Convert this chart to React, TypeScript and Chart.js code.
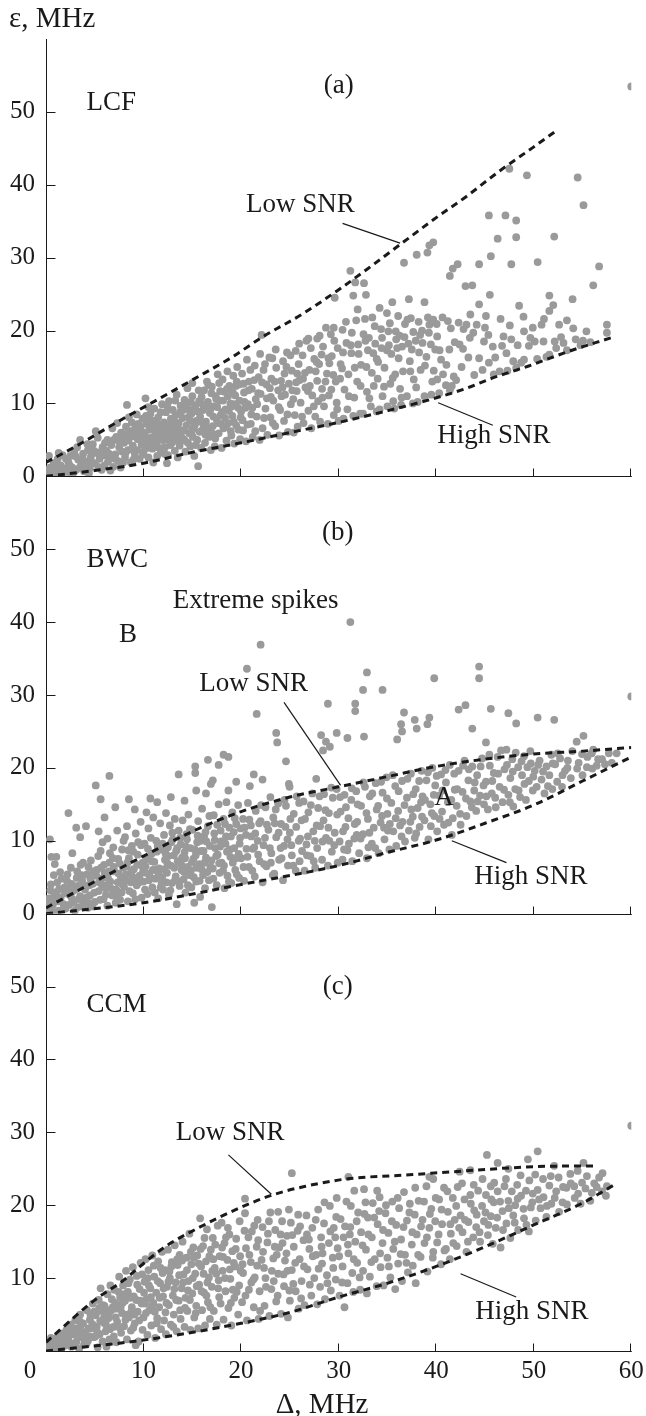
import React, { useEffect, useRef } from 'react';
import { Chart, registerables } from 'chart.js';

Chart.register(...registerables);

// ---------- axes / ticks ----------
const xTicks = [0, 10, 20, 30, 40, 50, 60];
const yTicksTop = [0, 10, 20, 30, 40, 50];
const yTicksBottom = [10, 20, 30, 40, 50];
const xTitle = 'Δ, MHz';
const yTitle = 'ε, MHz';

// ---------- panel (a) LCF : scatter points, flat [x, y, x, y, ...] ----------
const lcfPoints = [
  0.2,0.3, 0.4,1.2, 0.6,0.5, 0.8,1.8, 1.0,0.9, 1.2,2.4, 1.4,0.4, 1.5,1.5, 1.7,2.9, 1.9,1.1, 0.3,2.8, 0.9,0.2, 1.3,3.2,
  2.1,0.6, 2.3,1.9, 2.5,2.8, 2.7,1.2, 2.9,3.4, 3.1,0.9, 3.3,2.3, 3.5,5.0, 3.6,1.6, 3.8,3.1, 3.9,0.7, 2.6,0.2, 3.2,4.0,
  4.1,2.0, 4.3,3.6, 4.5,1.1, 4.6,2.7, 4.8,4.4, 5.0,1.8, 5.2,3.2, 5.3,5.3, 5.5,2.4, 5.7,0.9, 5.8,4.0, 5.9,2.9, 4.4,0.4, 5.1,6.2,
  6.0,1.5, 6.2,3.5, 6.3,5.0, 6.5,2.4, 6.7,4.3, 6.8,6.6, 6.9,1.3, 7.1,3.0, 7.2,5.4, 7.4,2.1, 7.5,4.0, 7.7,6.0, 7.8,3.4, 7.9,1.9, 6.6,0.8, 7.3,7.3,
  8.0,4.6, 8.1,2.6, 8.2,6.8, 8.3,9.8, 8.4,3.6, 8.6,5.4, 8.7,1.9, 8.8,7.4, 8.9,4.2, 9.1,3.1, 9.2,6.0, 9.3,8.5, 9.4,5.1, 9.6,2.4, 9.7,6.8, 9.8,4.4, 9.9,7.9, 8.5,8.1,
  10.0,3.4, 10.1,5.6, 10.2,10.7, 10.3,7.2, 10.4,4.7, 10.5,2.6, 10.6,6.4, 10.7,8.6, 10.8,5.3, 10.9,3.8, 11.0,7.6, 11.1,9.3, 11.2,6.1, 11.3,4.5, 11.4,2.8, 11.5,8.1, 11.6,5.6, 11.7,6.9, 11.8,3.4, 11.9,9.9, 11.0,1.9, 10.5,9.5,
  12.0,5.0, 12.1,7.4, 12.2,4.0, 12.3,8.8, 12.4,6.3, 12.5,2.9, 12.6,10.3, 12.7,5.5, 12.8,7.9, 12.9,4.6, 13.0,9.1, 13.1,6.7, 13.2,3.5, 13.3,8.4, 13.4,11.2, 13.5,5.9, 13.6,7.3, 13.7,4.2, 13.8,9.7, 13.9,6.3, 12.4,1.8, 13.5,2.6,
  14.0,8.0, 14.1,5.1, 14.2,10.5, 14.3,3.4, 14.4,7.0, 14.5,12.1, 14.6,9.2, 14.7,5.9, 14.8,4.1, 14.9,8.6, 15.0,11.0, 15.1,6.6, 15.2,2.8, 15.3,9.7, 15.4,7.6, 15.5,5.0, 15.6,1.4, 15.7,10.3, 15.8,8.2, 15.9,3.9, 15.0,12.8,
  16.0,6.3, 16.1,9.1, 16.2,11.8, 16.3,4.6, 16.4,7.5, 16.5,13.0, 16.6,10.2, 16.7,5.4, 16.8,8.7, 16.9,3.6, 17.0,12.3, 17.1,6.9, 17.2,9.6, 17.3,4.1, 17.4,11.0, 17.5,7.8, 17.6,14.0, 17.7,5.9, 17.8,10.4, 17.9,8.4,
  18.0,3.9, 18.1,13.3, 18.2,6.6, 18.3,11.6, 18.4,9.2, 18.5,4.9, 18.6,14.4, 18.7,7.3, 18.8,12.4, 18.9,10.0, 19.0,5.6, 19.1,8.3, 19.2,13.8, 19.3,4.5, 19.4,11.1, 19.5,7.0, 19.6,15.0, 19.7,9.4, 19.8,12.6, 19.9,5.1,
  20.0,8.9, 20.1,14.1, 20.2,6.3, 20.3,11.5, 20.5,4.8, 20.6,16.0, 20.7,9.9, 20.8,13.0, 21.0,7.2, 21.1,12.0, 21.2,5.4, 21.4,15.2, 21.5,10.6, 21.6,8.2, 21.8,13.6, 21.9,5.0,
  22.1,19.4, 22.0,11.3, 22.2,6.6, 22.3,14.6, 22.5,9.3, 22.6,12.6, 22.7,5.7, 22.9,16.3, 23.0,8.1, 23.1,13.4, 23.2,16.2, 23.3,10.4, 23.5,6.9, 23.6,14.9, 23.8,11.8, 23.9,5.6,
  24.0,9.1, 24.1,13.1, 24.3,15.8, 24.4,7.6, 24.5,11.2, 24.7,17.0, 24.8,6.1, 24.9,12.7, 25.1,9.9, 25.2,14.5, 25.4,6.0, 25.5,8.4, 25.6,17.2, 25.7,11.7, 25.9,15.4, 25.8,6.8,
  26.0,13.2, 26.1,10.1, 26.3,16.6, 26.4,7.3, 26.6,12.2, 26.7,18.6, 26.9,18.9, 26.9,9.0, 27.0,14.6, 27.2,6.6, 27.3,11.1, 27.5,16.1, 27.6,8.2, 27.8,18.9, 27.8,13.1, 27.9,10.3,
  28.0,15.4, 28.1,7.5, 28.3,12.0, 28.4,17.8, 28.5,9.6, 28.7,20.4, 28.8,14.1, 28.9,7.2, 29.0,11.1, 29.2,19.5, 29.3,16.5, 29.5,8.4, 29.6,24.5, 29.5,20.4, 29.7,13.0, 29.8,10.1, 29.9,17.6,
  30.0,7.6, 30.2,15.4, 30.4,20.1, 30.5,7.9, 30.6,11.9, 30.8,18.3, 30.9,9.2, 31.0,14.0, 31.2,28.2, 31.3,16.9, 31.5,24.8, 31.6,10.8, 31.7,26.6, 31.8,21.4, 31.9,13.0, 31.5,8.3,
  32.0,18.1, 32.2,8.6, 32.3,15.3, 32.5,8.6, 32.6,26.5, 32.7,21.6, 32.8,24.9, 32.9,11.6, 33.0,17.3, 33.1,19.0, 33.3,9.6, 33.4,14.2, 33.6,12.4, 33.7,20.6, 33.9,16.1, 33.9,8.9,
  34.0,13.4, 34.2,23.1, 34.2,9.2, 34.4,17.6, 34.5,11.0, 34.7,14.9, 34.95,22.4, 35.0,9.6, 35.1,19.9, 35.3,12.7, 35.5,23.9, 35.4,16.8, 35.6,10.3, 35.8,14.0, 35.9,18.8, 35.7,9.3,
  36.0,17.6, 36.1,22.0, 36.3,12.0, 36.4,9.8, 36.5,17.8, 36.6,14.4, 36.7,29.3, 36.8,20.9, 37.0,11.0, 37.2,24.3, 37.3,15.8, 37.4,21.7, 37.6,10.0, 37.7,13.3, 37.9,18.6, 37.5,17.4,
  38.0,30.4, 38.1,10.2, 38.2,21.2, 38.4,14.6, 38.6,18.3, 38.8,23.9, 38.8,11.0, 39.0,16.4, 39.1,30.7, 39.3,31.7, 39.3,20.8, 39.5,11.2, 39.6,13.0, 39.7,32.1, 39.7,21.5, 39.9,17.4,
  40.1,19.2, 40.1,13.3, 40.3,11.4, 40.5,16.0, 40.7,14.0, 41.0,12.5, 41.2,21.3, 41.4,27.5, 41.4,11.8, 41.6,12.4, 41.7,28.5, 41.8,13.7, 41.9,18.4, 41.5,20.3,
  42.2,29.1, 42.3,21.1, 42.4,18.1, 42.6,15.0, 42.8,20.2, 43.0,26.1, 43.1,20.8, 43.3,16.3, 43.5,22.2, 43.7,26.2, 43.8,19.7, 43.9,13.9,
  44.4,29.1, 44.4,23.6, 44.4,16.2, 44.9,18.5, 45.1,22.0, 45.4,35.8, 45.4,15.6, 45.5,24.9, 45.6,30.2, 45.8,17.8, 45.0,20.4, 45.9,14.0,
  46.3,32.6, 46.5,14.4, 46.9,19.2, 47.1,35.8, 47.5,42.2, 47.7,29.1, 47.7,18.8, 47.9,15.8, 46.6,21.6, 47.2,16.9, 47.3,14.5,
  48.2,35.1, 48.2,32.8, 48.5,23.4, 48.2,14.9, 49.0,19.9, 49.0,16.0, 49.3,41.3, 49.9,20.4, 48.7,15.6, 49.5,17.9,
  50.4,29.4, 50.1,18.5, 51.0,18.5, 51.6,22.7, 51.6,24.8, 51.6,16.7, 50.8,20.8, 51.3,16.4,
  52.0,23.5, 52.1,32.9, 52.8,19.1, 52.6,20.8, 53.4,21.4, 53.98,24.3, 53.4,17.3, 52.3,17.6,
  54.5,41.0, 55.1,37.2, 54.3,18.8, 55.4,19.9, 56.1,26.2, 56.7,28.8, 57.5,20.8, 57.5,19.7, 55.8,18.4, 54.8,18.0,
  60.0,53.5,
];
const lcfMorePoints = [
  0.35,0.9, 0.75,0.35, 1.15,1.4, 1.65,0.8, 2.05,2.4, 2.45,1.45, 2.85,0.55, 3.05,2.75, 3.45,1.2, 3.75,2.5, 4.05,1.4, 4.25,4.4, 4.65,1.9, 4.95,3.5, 5.35,1.3, 5.65,3.4,
  6.05,4.6, 6.35,2.0, 6.45,3.1, 6.95,5.0, 7.05,2.4, 7.45,4.9, 7.65,1.2, 7.95,5.4, 8.15,3.2, 8.45,4.9, 8.65,6.2, 8.95,2.3, 9.05,5.5, 9.35,3.6, 9.45,7.2, 9.75,4.9, 9.95,3.0,
  10.15,6.0, 10.35,3.9, 10.55,7.8, 10.85,4.2, 10.95,6.9, 11.25,5.2, 11.45,7.2, 11.65,3.9, 11.85,6.3, 11.95,5.0, 12.15,3.1, 12.35,5.8, 12.55,7.0, 12.75,4.3, 12.95,6.0,
  13.15,7.6, 13.35,4.9, 13.55,6.5, 13.75,8.8, 13.95,5.2, 14.15,6.3, 14.35,9.6, 14.55,4.6, 14.75,7.6, 14.95,6.2, 15.15,9.1, 15.35,4.3, 15.55,8.9, 15.75,6.1, 15.95,10.9,
  16.15,7.1, 16.35,5.7, 16.55,9.7, 16.75,6.4, 16.95,11.4, 17.15,8.2, 17.35,5.2, 17.55,9.5, 17.75,12.8, 17.95,7.2, 18.15,10.4, 18.35,8.0, 18.55,12.0, 18.75,9.0, 18.95,6.2,
  19.15,11.5, 19.35,9.9, 19.55,13.0, 19.75,6.4, 19.95,8.1, 20.25,12.7, 20.45,9.4, 20.65,7.1, 20.95,14.6, 21.15,9.4, 21.45,6.2, 21.75,11.4, 21.95,16.8, 22.35,8.0, 22.65,10.7,
  22.95,12.1, 23.25,7.3, 23.55,17.4, 23.85,9.5, 24.15,11.0, 24.45,14.1, 24.75,8.5, 25.05,16.6, 25.35,10.6, 25.65,12.9, 25.95,18.2, 26.25,8.2, 26.55,14.2, 26.85,11.7,
  27.15,17.6, 27.45,9.6, 27.75,15.7, 28.05,19.3, 28.35,10.8, 28.65,13.0, 28.95,16.2, 29.25,11.9, 29.55,18.6, 29.85,9.2, 30.15,13.4, 30.45,17.0, 30.75,21.2, 31.05,11.0,
  31.35,19.7, 31.65,14.9, 31.95,22.9, 32.25,12.4, 32.55,19.5, 32.85,15.0, 33.15,10.7, 33.45,21.8, 33.75,18.2, 34.05,15.7, 34.35,20.2, 34.65,12.3, 34.95,17.3, 35.25,21.0,
  35.55,13.5, 35.85,19.9, 36.15,16.2, 36.45,10.8, 36.75,19.1, 37.05,21.5, 37.35,14.4, 37.65,19.8, 37.95,12.2, 38.25,17.0, 38.55,20.0, 38.85,15.2, 39.15,21.8, 39.45,18.1,
  39.75,14.5, 40.05,20.9, 40.35,17.3, 40.65,21.8, 41.05,15.3, 41.35,17.4, 42.05,13.2, 42.75,17.5, 43.45,19.0, 44.15,20.8, 44.75,14.6, 45.35,19.4, 46.05,16.3, 46.75,17.9,
  47.55,20.7, 48.35,18.0, 48.95,21.9, 49.65,19.0, 50.35,16.1, 51.05,21.6, 52.15,18.5, 53.05,18.3, 54.05,20.3, 55.05,18.6,
];
const lcfDensePoints = [
  8.25,5.8, 8.85,3.9, 9.15,6.6, 9.65,5.9, 10.25,8.3, 10.65,5.0, 11.15,4.0, 11.55,6.6, 11.75,8.8, 12.05,6.8, 12.45,9.5, 12.65,4.9, 13.05,5.3, 13.25,10.4, 13.45,7.0,
  13.85,6.0, 14.05,9.1, 14.25,4.9, 14.65,8.2, 14.85,10.2, 15.05,5.4, 15.25,7.0, 15.65,11.8, 15.85,7.5, 16.05,9.9, 16.45,6.7, 16.65,12.5, 16.85,9.2, 17.05,5.9, 17.45,10.6,
  17.65,7.3, 17.85,11.7, 18.05,8.8, 18.45,6.8, 18.65,11.0, 19.05,9.6, 19.25,7.5, 19.45,12.4, 19.85,10.4, 20.15,7.7, 20.35,10.2, 20.75,11.8, 21.05,8.5, 21.35,13.2, 21.65,9.9,
  22.15,12.9, 22.45,15.4, 23.05,10.9, 23.45,13.0, 24.25,12.2, 24.65,15.0, 25.25,11.8, 25.75,14.1, 26.35,13.4, 27.05,12.4, 27.65,14.4, 28.25,16.7, 29.05,15.5, 29.45,13.9,
  30.35,14.8, 31.25,18.0, 32.05,16.8, 32.75,18.6, 33.55,16.9, 34.45,19.0, 35.15,18.0, 36.25,19.3, 37.15,18.2, 38.35,19.4, 39.25,19.7,
];

// ---------- panel (b) BWC ----------
const bwcPoints = [
  0.2,0.5, 0.3,2.1, 0.5,4.0, 0.55,7.8, 0.4,10.2, 0.7,1.2, 0.9,6.8, 1.06,7.8, 1.1,3.0, 1.3,0.4, 1.5,2.2, 1.6,4.8, 1.8,1.3, 1.9,3.6, 0.8,5.3,
  2.0,0.7, 2.2,5.4, 2.3,13.8, 2.4,2.6, 2.6,4.1, 2.8,1.5, 3.0,3.3, 3.1,11.8, 3.2,5.8, 3.3,0.9, 3.5,10.5, 3.5,2.4, 3.7,4.6, 3.9,1.8, 3.8,7.0, 2.7,8.3,
  4.0,3.3, 4.2,5.4, 4.3,0.8, 4.5,2.5, 4.6,7.3, 4.8,4.1, 5.0,1.6, 5.1,17.6, 5.2,6.0, 5.4,11.3, 5.4,3.1, 5.6,15.7, 5.6,8.6, 5.7,4.8, 5.9,2.0, 5.8,9.8,
  6.0,5.6, 6.1,3.5, 6.3,10.3, 6.3,1.1, 6.5,18.9, 6.5,7.0, 6.6,4.4, 6.8,2.5, 6.9,9.1, 7.0,5.8, 7.2,3.3, 7.3,11.4, 7.4,7.5, 7.6,1.9, 7.7,4.9, 7.8,8.8, 7.9,6.3,
  8.0,3.7, 8.1,10.5, 8.2,5.4, 8.3,12.0, 8.4,1.7, 8.5,15.7, 8.5,7.6, 8.7,4.3, 8.8,9.3, 8.9,2.8, 9.0,6.1, 9.2,11.0, 9.3,3.9, 9.4,8.1, 9.6,5.2, 9.7,12.6, 9.8,2.2, 9.9,7.0,
  10.0,4.4, 10.1,9.6, 10.2,6.5, 10.4,2.7, 10.5,11.7, 10.6,5.3, 10.7,15.8, 10.8,8.2, 10.9,3.6, 11.0,13.2, 11.1,7.1, 11.2,4.8, 11.3,10.0, 11.5,2.1, 11.6,6.2, 11.7,12.4, 11.8,8.8, 11.9,5.0,
  12.0,3.3, 12.1,10.8, 12.2,7.4, 12.3,13.8, 12.4,5.6, 12.5,9.1, 12.6,2.6, 12.7,12.1, 12.8,6.6, 12.9,4.2, 13.0,10.2, 13.1,8.0, 13.2,13.0, 13.3,5.1, 13.4,1.3, 13.5,7.2, 13.6,19.1, 13.6,11.4, 13.7,3.8, 13.8,9.5, 13.9,6.0,
  14.0,12.8, 14.1,4.7, 14.2,8.4, 14.3,2.9, 14.4,10.9, 14.5,6.4, 14.6,13.6, 14.7,5.3, 14.8,9.0, 14.9,3.6, 15.0,11.5, 15.1,7.5, 15.2,1.5, 15.3,20.2, 15.3,19.3, 15.4,16.9, 15.4,4.4, 15.5,9.8, 15.6,12.7, 15.7,6.8, 15.8,2.3, 15.9,8.6,
  16.0,14.4, 16.1,5.3, 16.2,10.6, 16.3,3.5, 16.4,16.5, 16.4,7.7, 16.6,21.1, 16.6,12.0, 16.7,4.6, 16.8,9.3, 17.0,0.9, 17.1,18.3, 17.1,6.2, 17.2,13.5, 17.3,10.1, 17.5,3.9, 17.6,8.1, 17.7,20.4, 17.7,15.0, 17.8,5.6, 17.9,11.4,
  18.0,7.0, 18.2,21.8, 18.2,13.0, 18.3,3.5, 18.4,9.6, 18.5,15.3, 18.6,5.2, 18.7,21.5, 18.7,16.9, 18.8,11.8, 18.9,7.8, 19.0,4.2, 19.1,13.9, 19.3,9.0, 19.4,6.0, 19.5,12.3, 19.7,14.9, 19.8,4.9, 19.9,10.4,
  20.0,7.6, 20.2,13.0, 20.3,4.5, 20.5,10.8, 20.6,33.6, 20.7,15.2, 20.8,6.4, 21.0,12.1, 21.2,8.9, 21.3,19.1, 21.4,5.1, 21.5,14.1, 21.6,27.4, 21.7,10.0, 21.9,7.2, 22.0,36.9, 22.0,12.7,
  22.2,18.4, 22.2,4.3, 22.3,9.4, 22.5,14.6, 22.6,6.5, 22.8,11.5, 23.0,16.0, 23.1,8.3, 23.3,13.2, 23.4,5.5, 23.6,24.8, 23.6,10.5, 23.7,23.5, 23.8,15.1, 23.9,7.4,
  24.1,12.3, 24.3,4.6, 24.4,9.3, 24.6,20.9, 24.6,14.8, 24.8,6.6, 24.9,17.8, 24.97,17.4, 25.0,11.1, 25.2,8.0, 25.4,13.7, 25.6,5.9, 25.7,16.1, 25.9,10.0,
  26.0,7.2, 26.2,12.8, 26.4,15.4, 26.5,5.9, 26.7,9.5, 26.9,13.9, 27.1,7.9, 27.3,16.5, 27.4,11.3, 27.6,6.3, 27.7,18.5, 27.8,9.0, 27.9,14.5,
  28.2,24.5, 28.1,12.0, 28.3,7.4, 28.4,22.4, 28.5,16.4, 28.7,23.6, 28.7,10.4, 28.9,28.8, 28.9,6.6, 29.0,13.8, 29.1,22.9, 29.3,8.5, 29.4,15.9, 29.6,11.1, 29.8,24.8, 29.8,17.1, 29.9,7.0,
  30.1,9.9, 30.2,14.0, 30.4,7.4, 30.6,16.3, 30.7,11.9, 30.9,24.1, 30.9,8.7, 31.0,13.1, 31.2,40.0, 31.3,15.6, 31.4,7.2, 31.6,10.3, 31.7,28.8, 31.7,27.8, 31.8,16.8, 31.9,12.6,
  32.1,8.3, 32.3,14.8, 32.5,30.7, 32.5,10.9, 32.6,24.3, 32.7,17.4, 32.9,33.1, 32.9,7.6, 33.0,13.0, 33.2,16.1, 33.4,9.6, 33.6,11.8, 33.8,17.9, 33.9,14.3,
  34.1,8.3, 34.3,12.5, 34.5,30.7, 34.5,16.6, 34.7,10.2, 34.9,18.7, 35.0,13.7, 35.2,8.8, 35.4,15.2, 35.6,11.3, 35.8,17.5, 35.9,9.3,
  36.0,23.9, 36.1,14.1, 36.4,26.0, 36.3,12.1, 36.5,25.0, 36.5,18.2, 36.7,27.6, 36.8,9.9, 37.0,15.9, 37.2,11.4, 37.4,19.2, 37.6,13.3, 37.8,26.6, 37.8,10.4, 37.9,17.1,
  38.0,25.4, 38.1,14.5, 38.3,11.9, 38.5,19.6, 38.6,16.1, 38.8,12.8, 39.1,26.0, 39.0,18.3, 39.3,26.9, 39.2,10.2, 39.4,15.0, 39.6,20.0, 39.8,32.3, 39.8,13.4, 39.9,17.6,
  40.1,11.3, 40.3,16.2, 40.5,19.1, 40.6,14.0, 40.8,12.2, 41.0,18.0, 41.2,15.3, 41.4,20.4, 41.6,10.8, 41.7,13.1, 41.9,17.0,
  42.1,14.8, 42.3,28.0, 42.3,19.6, 42.5,12.2, 42.7,16.7, 42.9,21.0, 43.0,28.6, 43.1,13.4, 43.3,18.3, 43.5,15.4, 43.7,25.4, 43.7,20.2, 43.9,16.9,
  44.1,14.1, 44.2,19.0, 44.4,33.9, 44.4,32.3, 44.5,16.2, 44.7,21.3, 44.9,15.0, 45.1,23.5, 45.1,18.1, 45.3,14.3, 45.6,28.1, 45.5,20.3, 45.7,16.5, 45.9,19.3,
  46.1,14.6, 46.3,21.5, 46.5,17.4, 46.8,15.3, 47.0,19.8, 47.2,22.5, 47.4,27.5, 47.4,16.3, 47.6,18.6, 47.8,21.2, 47.9,14.7,
  48.2,26.1, 48.1,17.1, 48.4,20.1, 48.6,16.0, 48.8,19.0, 49.0,21.6, 49.2,15.6, 49.5,18.2, 49.7,20.6, 49.9,16.9,
  50.1,19.6, 50.4,26.9, 50.3,17.4, 50.6,21.0, 50.8,18.4, 51.1,16.5, 51.3,20.2, 51.6,19.0, 51.8,21.8, 51.9,17.1,
  52.1,26.6, 52.2,20.5, 52.4,18.1, 52.7,21.3, 52.9,17.4, 53.2,19.6, 53.5,21.0, 53.8,18.6,
  54.4,23.6, 55.1,24.4, 54.6,20.7, 55.0,19.0, 55.5,21.5, 56.1,22.5, 56.0,19.9, 56.6,21.2, 57.3,20.5, 57.7,22.0, 60.0,29.8,
];
const bwcMorePoints = [
  0.15,1.3, 0.45,3.2, 0.65,0.3, 0.85,2.6, 1.15,4.3, 1.25,1.7, 1.45,5.7, 1.75,0.6, 1.95,2.8, 2.15,4.5, 2.35,1.2, 2.55,6.3, 2.75,3.1, 2.95,0.4, 3.15,4.9, 3.35,2.0,
  3.55,6.7, 3.75,1.1, 3.95,3.9, 4.15,2.2, 4.35,6.4, 4.55,4.8, 4.75,1.0, 4.95,2.9, 5.15,5.2, 5.35,7.9, 5.55,1.9, 5.75,3.9, 5.95,6.7, 6.15,2.6, 6.35,4.9, 6.55,8.3,
  6.75,3.4, 6.95,6.4, 7.15,1.5, 7.35,4.3, 7.55,6.9, 7.75,2.9, 7.95,10.0, 8.15,4.6, 8.35,7.0, 8.55,3.1, 8.75,5.9, 8.95,8.5, 9.15,2.0, 9.35,6.7, 9.55,4.3, 9.75,9.4,
  9.95,5.7, 10.15,3.3, 10.35,7.5, 10.55,4.6, 10.75,10.4, 10.95,6.0, 11.15,2.9, 11.35,8.5, 11.55,5.4, 11.75,3.6, 11.95,9.6, 12.15,6.1, 12.35,4.3, 12.55,7.9, 12.75,3.2,
  12.95,11.1, 13.15,6.3, 13.35,8.6, 13.55,4.4, 13.75,10.4, 13.95,7.7, 14.15,5.7, 14.35,9.2, 14.55,3.9, 14.75,11.6, 14.95,7.0, 15.15,5.0, 15.35,8.0, 15.55,10.7, 15.75,4.5,
  15.95,6.1, 16.15,8.6, 16.35,11.2, 16.55,5.7, 16.75,13.4, 16.95,7.3, 17.15,4.8, 17.35,9.0, 17.55,12.2, 17.75,6.9, 17.95,9.9, 18.15,5.9, 18.35,12.3, 18.55,8.5, 18.75,4.4,
  18.95,10.6, 19.15,7.0, 19.35,13.1, 19.55,5.4, 19.75,8.2, 19.95,11.7, 20.25,6.4, 20.55,8.9, 20.85,12.9, 21.15,5.9, 21.45,11.0, 21.75,8.1, 22.05,14.9, 22.35,6.8, 22.65,12.2,
  22.95,9.0, 23.25,5.3, 23.55,14.3, 23.85,11.1, 24.15,7.6, 24.45,15.6, 24.75,10.2, 25.05,13.0, 25.35,6.6, 25.65,11.9, 25.95,15.2, 26.25,8.6, 26.55,13.0, 26.85,10.6, 27.15,14.9,
  27.45,7.2, 27.75,12.1, 28.05,16.1, 28.35,9.9, 28.65,14.2, 28.95,11.8, 29.25,17.3, 29.55,9.4, 29.85,13.6, 30.15,16.0, 30.45,11.3, 30.75,14.6, 31.05,9.6, 31.35,17.2, 31.65,12.3,
  31.95,15.0, 32.25,10.3, 32.55,18.0, 32.85,13.8, 33.15,11.1, 33.45,16.5, 33.75,9.0, 34.05,14.8, 34.35,18.1, 34.65,11.8, 34.95,15.8, 35.25,12.3, 35.55,19.0, 35.85,13.1, 36.15,16.8,
  36.45,10.6, 36.75,14.9, 37.05,18.5, 37.35,12.6, 37.65,16.4, 37.95,11.0, 38.25,18.2, 38.55,13.3, 38.85,15.6, 39.15,19.4, 39.45,12.0, 39.75,16.3, 40.05,18.9, 40.35,13.0, 40.65,16.9,
  40.95,19.7, 41.25,12.5, 41.55,15.6, 41.85,19.2, 42.15,17.1, 42.45,13.7, 42.75,20.3, 43.05,15.8, 43.35,19.8, 43.65,14.6, 43.95,18.0, 44.25,15.4, 44.55,20.2, 44.85,17.6, 45.15,16.1,
  45.45,21.8, 45.75,18.2, 46.05,15.9, 46.35,19.2, 46.65,22.4, 46.95,17.0, 47.25,20.4, 47.55,15.3, 47.85,19.5, 48.15,22.1, 48.45,16.9, 48.75,20.9, 49.05,17.8, 49.35,20.1, 49.65,22.3,
  49.95,18.8, 50.45,20.4, 50.95,19.5, 51.45,17.5, 51.95,20.6, 52.45,22.0, 52.95,19.0, 53.45,20.0, 53.95,22.3, 54.45,19.9, 54.95,21.9, 55.45,20.1, 55.95,22.0, 56.45,20.3, 57.0,21.2,
  58.0,20.7, 58.5,22.0, 4.1,12.0, 6.0,13.2, 7.1,14.6, 9.1,14.3, 10.3,13.9, 11.4,15.3, 12.8,16.0, 14.2,15.5, 19.5,18.1, 20.9,17.5, 16.9,17.8,
];
const bwcDensePoints = [
  0.35,0.9, 0.95,1.9, 1.35,3.4, 2.25,3.3, 2.65,2.1, 3.25,3.8, 3.65,5.3, 4.25,1.6, 4.45,3.9, 4.85,5.8, 5.45,4.3, 5.65,6.3, 6.25,3.9, 6.45,5.8, 6.85,7.6, 7.25,2.4,
  7.45,5.5, 7.85,4.0, 8.25,6.5, 8.45,8.7, 8.85,5.1, 9.25,4.7, 9.45,9.8, 9.85,6.5, 10.25,5.6, 10.45,8.9, 10.85,7.2, 11.25,6.0, 11.45,9.3, 11.85,4.2, 12.25,8.3, 12.45,6.9,
  12.85,9.8, 13.25,4.7, 13.45,9.0, 13.85,6.8, 14.25,7.6, 14.45,10.2, 14.85,5.9, 15.25,8.8, 15.45,6.3, 15.85,10.0, 16.25,7.0, 16.45,9.9, 16.85,6.4, 17.25,11.0, 17.45,7.9,
  17.85,9.2, 18.25,6.6, 18.45,10.6, 18.85,8.8, 19.25,11.2, 19.45,7.6, 19.85,9.6, 20.35,11.8, 20.65,7.8, 21.05,10.6, 21.35,9.1, 21.85,12.4, 22.45,10.4, 23.05,7.0, 23.45,12.4,
  24.05,9.0, 24.55,11.9, 25.15,9.4, 26.05,10.3, 26.75,8.0, 27.55,10.0, 28.45,12.8, 29.05,10.0, 30.55,8.8, 31.85,10.8, 33.05,9.1, 34.45,13.4, 35.05,11.4, 36.55,12.6,
  37.45,14.3, 38.45,15.3, 39.55,13.8,
];

// ---------- panel (c) CCM ----------
const ccmPoints = [
  0.2,0.3, 0.4,1.0, 0.6,0.4, 0.8,1.6, 1.0,0.7, 1.2,2.0, 1.4,1.1, 1.6,0.5, 1.8,2.4, 1.9,1.4, 0.5,1.8,
  2.0,0.8, 2.1,2.9, 2.3,1.7, 2.5,3.6, 2.6,0.6, 2.8,2.3, 3.0,4.2, 3.1,1.2, 3.3,3.0, 3.5,5.0, 3.6,1.9, 3.8,3.8, 3.9,0.9, 3.4,0.3,
  4.0,2.6, 4.2,5.6, 4.3,1.4, 4.5,4.3, 4.6,3.1, 4.8,6.5, 4.9,1.9, 5.1,4.9, 5.2,3.3, 5.4,7.0, 5.5,2.3, 5.6,8.6, 5.7,5.5, 5.8,1.3, 5.9,3.9, 5.3,0.5,
  6.0,6.2, 6.1,2.7, 6.3,7.8, 6.4,4.5, 6.5,1.6, 6.6,9.0, 6.7,5.6, 6.9,3.3, 7.0,8.4, 7.1,6.6, 7.2,1.2, 7.3,4.0, 7.5,10.2, 7.6,7.4, 7.7,2.5, 7.8,5.2, 7.9,9.0, 6.2,0.6,
  8.0,3.4, 8.1,6.9, 8.2,11.0, 8.3,1.6, 8.4,8.1, 8.5,4.6, 8.6,9.8, 8.7,2.8, 8.8,6.0, 8.9,11.5, 9.0,7.5, 9.1,3.8, 9.3,10.3, 9.4,5.4, 9.5,1.3, 9.6,8.5, 9.7,12.1, 9.8,6.5, 9.9,2.9, 9.2,0.8,
  10.0,4.6, 10.1,9.5, 10.2,12.6, 10.3,7.1, 10.4,2.2, 10.5,11.1, 10.6,5.6, 10.7,8.6, 10.8,3.5, 10.9,13.1, 11.0,6.6, 11.1,10.2, 11.2,1.8, 11.3,8.0, 11.4,4.5, 11.5,12.3, 11.6,6.0, 11.7,9.3, 11.8,3.0, 11.9,13.6, 12.0,7.5,
  12.1,4.2, 12.2,11.1, 12.3,2.3, 12.4,8.8, 12.5,13.9, 12.6,6.3, 12.7,10.0, 12.8,3.6, 12.9,12.2, 13.0,7.6, 13.1,5.0, 13.2,14.5, 13.3,9.4, 13.4,2.7, 13.5,11.8, 13.6,6.9, 13.7,13.2, 13.8,4.4, 13.9,8.6,
  14.0,15.0, 14.1,10.5, 14.2,3.3, 14.3,7.3, 14.4,12.8, 14.5,5.5, 14.6,9.6, 14.7,16.1, 14.8,2.9, 14.9,11.9, 15.0,7.9, 15.1,14.2, 15.2,4.6, 15.3,10.6, 15.4,6.2, 15.5,13.1, 15.6,3.1, 15.7,9.1, 15.8,18.2, 15.9,11.6,
  16.0,5.6, 16.1,14.4, 16.2,8.0, 16.3,3.5, 16.4,12.3, 16.5,16.7, 16.6,6.7, 16.7,10.1, 16.8,4.4, 16.9,13.9, 17.0,8.8, 17.1,15.5, 17.2,5.5, 17.3,11.4, 17.5,3.6, 17.6,17.2, 17.7,9.7, 17.8,13.0, 17.9,6.5,
  18.0,17.6, 18.1,11.0, 18.2,4.3, 18.3,14.8, 18.4,8.2, 18.6,12.5, 18.7,5.9, 18.8,16.0, 18.9,9.9, 19.0,3.5, 19.1,13.7, 19.3,7.3, 19.4,11.6, 19.5,15.4, 19.7,5.0, 19.8,9.0, 19.9,13.0,
  20.1,6.7, 20.2,10.7, 20.4,20.9, 20.4,18.9, 20.5,14.1, 20.6,4.2, 20.8,8.4, 21.0,12.2, 21.1,16.4, 21.3,6.0, 21.4,10.1, 21.6,14.3, 21.8,4.4, 21.9,8.2, 21.7,18.0,
  22.1,12.5, 22.2,17.0, 22.4,6.2, 22.5,10.0, 22.7,14.9, 22.9,4.8, 23.0,19.0, 23.1,8.5, 23.3,12.7, 23.5,16.6, 23.6,6.8, 23.8,19.1, 23.8,10.6, 23.9,14.2,
  24.1,5.1, 24.2,17.8, 24.4,8.9, 24.5,12.4, 24.7,15.8, 24.9,19.4, 24.8,4.6, 25.0,6.9, 25.1,17.6, 25.2,24.4, 25.2,11.1, 25.4,14.3, 25.6,8.2, 25.8,16.5, 25.9,5.8,
  26.0,12.6, 26.2,9.6, 26.4,15.2, 26.5,6.3, 26.7,18.6, 26.8,11.2, 27.0,14.0, 27.2,7.6, 27.3,16.9, 27.5,10.0, 27.7,13.2, 27.8,6.4, 27.9,19.4,
  28.1,8.8, 28.2,15.6, 28.3,12.0, 28.5,17.5, 28.6,7.1, 28.8,10.4, 29.0,14.8, 29.1,19.9, 29.2,8.3, 29.4,12.8, 29.5,16.9, 29.7,9.8, 29.8,21.0, 29.9,14.1,
  30.1,7.6, 30.2,18.1, 30.4,11.6, 30.5,15.6, 30.6,6.0, 30.8,20.5, 30.9,9.3, 31.0,23.9, 31.0,13.4, 31.2,17.0, 31.4,10.7, 31.5,8.1, 31.6,22.0, 31.7,15.0, 31.9,12.1,
  32.0,19.0, 32.2,8.4, 32.3,16.3, 32.5,11.0, 32.6,22.2, 32.8,13.9, 32.9,7.9, 33.0,18.3, 33.2,10.2, 33.4,15.6, 33.5,20.3, 33.7,12.6, 33.9,8.9,
  34.0,17.4, 34.2,21.1, 34.3,11.5, 34.5,14.8, 34.6,9.0, 34.8,18.9, 35.0,12.8, 35.1,16.2, 35.3,10.1, 35.5,20.5, 35.6,14.0, 35.8,8.5, 35.9,17.3,
  36.1,12.0, 36.2,19.6, 36.4,15.3, 36.5,9.6, 36.7,21.8, 36.8,13.2, 37.0,17.9, 37.1,10.8, 37.3,20.2, 37.5,14.6, 37.6,11.7, 37.8,18.7, 37.9,9.3,
  38.0,16.0, 38.2,20.6, 38.4,12.9, 38.6,18.0, 38.8,14.8, 39.0,22.6, 39.1,10.9, 39.3,23.9, 39.3,16.9, 39.5,19.5, 39.7,23.6, 39.7,13.6, 39.9,17.8,
  40.1,14.9, 40.3,20.8, 40.5,11.9, 40.6,17.4, 40.8,22.4, 41.0,14.0, 41.2,19.1, 41.4,12.6, 41.5,16.1, 41.7,21.0, 41.9,18.0,
  42.1,14.4, 42.2,22.5, 42.4,24.6, 42.5,18.6, 42.7,16.3, 42.9,20.8, 43.1,13.6, 43.3,17.7, 43.5,24.8, 43.5,21.4, 43.8,15.6, 43.9,19.3,
  44.1,17.0, 44.3,22.0, 44.5,15.0, 44.7,19.9, 44.9,17.8, 45.2,26.9, 45.1,21.4, 45.3,15.9, 45.6,22.6, 45.6,18.5, 45.8,14.7, 45.9,20.4,
  46.3,25.8, 46.1,16.9, 46.3,21.9, 46.6,14.2, 46.8,19.2, 47.0,22.6, 47.2,17.5, 47.4,25.0, 47.4,20.6, 47.6,15.5, 47.9,18.6,
  48.3,22.8, 48.1,20.0, 48.4,16.6, 48.7,21.3, 49.0,18.2, 49.4,26.3, 49.2,22.0, 49.5,16.4, 49.7,19.7, 49.9,21.6,
  50.4,27.4, 50.2,17.9, 50.4,22.1, 50.7,19.6, 51.0,21.1, 51.3,18.4, 51.6,22.7, 51.8,20.2, 52.1,25.4,
  52.3,21.9, 52.6,19.1, 53.0,22.5, 53.4,20.1, 53.8,23.0, 54.5,24.7, 54.2,21.0, 54.8,20.2, 55.1,25.8, 55.3,22.3, 55.8,20.6, 56.2,23.0, 56.7,23.8, 57.0,21.9, 57.5,22.6, 57.4,21.3,
  60.0,30.9,
];
const ccmMorePoints = [
  0.25,0.9, 0.55,0.2, 0.95,1.2, 1.25,0.3, 1.55,1.7, 1.85,0.7, 2.15,1.3, 2.45,2.4, 2.75,1.0, 2.95,3.1, 3.25,1.8, 3.55,3.4, 3.85,2.3, 4.15,1.0, 4.45,2.0, 4.75,3.7,
  4.95,5.4, 5.25,2.6, 5.55,4.1, 5.85,6.3, 6.15,3.6, 6.45,5.0, 6.75,7.1, 6.95,2.0, 7.25,5.8, 7.55,3.2, 7.85,6.6, 8.15,4.3, 8.45,9.3, 8.75,5.4, 8.95,3.2, 9.25,7.0,
  9.55,4.2, 9.85,10.5, 10.05,8.0, 10.25,5.2, 10.55,9.0, 10.85,6.2, 11.05,11.7, 11.35,3.8, 11.65,7.3, 11.95,10.7, 12.25,5.3, 12.55,9.5, 12.85,11.6, 13.05,3.3, 13.35,7.0,
  13.65,10.4, 13.95,12.4, 14.25,5.9, 14.55,8.3, 14.85,13.6, 15.05,10.0, 15.35,5.2, 15.65,12.0, 15.95,8.2, 16.25,15.5, 16.55,9.4, 16.85,6.0, 17.15,12.6, 17.45,10.6, 17.75,7.4,
  18.05,14.2, 18.35,10.0, 18.65,16.9, 18.95,6.6, 19.25,12.1, 19.55,8.1, 19.85,17.8, 20.15,11.9, 20.45,7.6, 20.75,15.6, 21.05,9.4, 21.35,17.2, 21.65,11.7, 21.95,5.5, 22.25,13.6,
  22.55,8.8, 22.85,17.8, 23.15,11.0, 23.45,14.3, 23.75,7.6, 24.05,16.0, 24.35,10.5, 24.65,13.4, 24.95,8.3, 25.25,15.9, 25.55,12.1, 25.85,18.7, 26.15,7.2, 26.45,11.6, 26.75,16.0,
  27.05,9.1, 27.35,13.0, 27.65,18.0, 27.95,11.3, 28.25,14.3, 28.55,20.4, 28.85,9.3, 29.15,16.4, 29.45,11.4, 29.75,18.4, 30.05,13.0, 30.35,9.4, 30.65,17.1, 30.95,14.6, 31.25,19.9,
  31.55,12.6, 31.85,17.8, 32.15,10.1, 32.45,14.5, 32.75,20.4, 33.05,16.0, 33.35,12.2, 33.65,18.3, 33.95,22.0, 34.25,13.4, 34.55,16.6, 34.85,20.0, 35.15,11.6, 35.45,17.8, 35.75,15.0,
  36.05,21.0, 36.35,13.3, 36.65,17.0, 36.95,12.1, 37.25,19.0, 37.55,16.3, 37.85,22.4, 38.15,13.2, 38.45,17.1, 38.75,20.5, 39.05,15.6, 39.35,18.8, 39.65,12.8, 39.95,21.0, 40.25,16.0,
  40.55,19.4, 40.85,13.8, 41.15,21.9, 41.45,17.4, 41.75,14.8, 42.05,19.9, 42.35,16.9, 42.65,23.0, 42.95,18.0, 43.25,15.0, 43.55,20.2, 43.85,22.8, 44.15,18.7, 44.45,16.3, 44.75,23.6,
  45.05,19.0, 45.35,17.3, 45.65,20.8, 45.95,23.1, 46.25,18.3, 46.55,20.5, 46.85,16.6, 47.15,23.6, 47.45,19.6, 47.75,21.9, 48.05,17.6, 48.35,20.9, 48.65,24.1, 48.95,19.5, 49.25,17.3,
  49.55,23.4, 49.85,20.4, 50.15,24.2, 50.55,20.8, 50.95,23.6, 51.35,19.9, 51.75,24.0, 52.15,21.0, 52.55,23.8, 52.95,20.4, 53.35,22.4, 53.75,24.3, 54.15,22.6, 54.55,21.6, 54.95,23.1,
  55.45,24.0, 55.95,21.7, 56.45,22.5, 57.05,24.4,
];
const ccmDensePoints = [
  0.65,0.9, 1.05,1.6, 1.45,2.4, 1.95,2.1, 2.25,0.9, 2.65,3.0, 3.15,2.4, 3.45,4.1, 3.95,1.5, 4.35,3.1, 4.55,5.0, 5.05,2.0, 5.45,5.9, 5.95,4.6, 6.25,5.6, 6.55,3.0,
  6.85,6.0, 7.15,4.6, 7.45,8.1, 7.65,5.9, 8.05,7.8, 8.35,5.0, 8.65,7.3, 9.05,5.0, 9.35,9.1, 9.65,6.9, 10.15,6.5, 10.45,10.0, 10.75,7.4, 11.15,5.4, 11.45,9.6, 11.75,11.4,
  12.05,8.6, 12.35,6.6, 12.65,10.9, 13.15,8.5, 13.45,12.6, 13.75,5.6, 14.05,9.4, 14.45,11.1, 14.75,7.0, 15.15,12.8, 15.45,8.9, 15.85,14.0, 16.15,10.6, 16.45,7.6, 16.75,13.0,
  17.05,11.0, 17.35,14.6, 17.65,8.6, 18.15,12.9, 18.45,15.6, 18.85,11.2, 19.15,8.4, 19.45,14.0, 19.95,11.0, 20.35,16.5, 20.85,13.2, 21.25,9.8, 21.75,15.2, 22.35,11.4, 22.75,16.1,
  23.35,9.6, 23.65,13.2, 24.25,14.8, 24.75,11.0, 25.35,9.2, 26.05,17.1, 26.95,15.3, 28.35,13.4, 29.65,15.6, 31.15,16.0, 32.65,18.8, 34.15,19.2,
];

// ---------- dashed boundary curves ----------
const lcfLowSnr = [0,1.9, 3.7,4.6, 7.5,7.6, 11.8,10.8, 15.1,13.3, 19,16.3, 22.3,19.2, 26.2,22.2, 30,25.6, 33.3,28.8, 36.3,31.8, 39.7,35.2, 43.1,38.4, 46.5,41.9, 49.9,45.1, 52.3,47.4];
const lcfHighSnr = [0,0, 5,0.8, 10,1.8, 15,3.3, 20,4.6, 25,6.0, 30,7.4, 35,9.0, 39.3,10.5, 42.7,11.9, 46,13.6, 49.4,15.1, 53.7,17.2, 57.9,19.0];
const bwcLowSnr = [0,0.8, 5,4.4, 10,7.9, 15.2,11.4, 20,14.0, 25,16.0, 30,17.4, 35,18.8, 40,20.2, 45,21.2, 50,21.9, 55,22.3, 60,22.8];
const bwcHighSnr = [0,0, 10,1.5, 20,4.0, 30,6.6, 35,8.4, 40,10.1, 45,12.4, 50,14.9, 55,18.2, 60,21.5];
const ccmLowSnr = [0,1.2, 5,7.0, 7.95,9.7, 10,12.0, 12.2,14.3, 15.2,16.6, 19.8,19.6, 23.2,21.4, 26.6,22.6, 30.8,23.6, 37.6,24.2, 41.8,24.6, 50.3,25.3, 56.4,25.4];
const ccmHighSnr = [0,0, 10,1.5, 20,3.8, 25,5.3, 30,7.4, 35,9.3, 40,11.6, 45,14.3, 50,17.3, 55,20.3, 58.5,23.0];

// ---------- leader lines (from label to curve) ----------
const lcfLeaders = [[30.4,34.7, 36.3,32.0], [40.2,10.1, 45.8,7.0]];
const bwcLeaders = [[24.4,29.0, 30.2,17.6], [41.6,10.0, 47.2,7.0]];
const ccmLeaders = [[18.7,26.9, 23.1,21.5], [42.5,10.6, 48.2,7.4]];

// ---------- text notes [text, x, y, align] ----------
const lcfNotes = [['(a)', 30, 53.6, 'center'], ['LCF', 4.15, 51.2, 'left'], ['Low SNR', 20.5, 37.2, 'left'], ['High SNR', 40.1, 5.5, 'left']];
const bwcNotes = [['(b)', 29.9, 52.2, 'center'], ['BWC', 4.15, 48.6, 'left'], ['Extreme spikes', 13.0, 42.9, 'left'], ['B', 8.4, 38.2, 'center'], ['Low SNR', 15.7, 31.5, 'left'], ['A', 40.8, 15.9, 'center'], ['High SNR', 43.9, 5.0, 'left']];
const ccmNotes = [['(c)', 29.9, 50.0, 'center'], ['CCM', 4.15, 47.5, 'left'], ['Low SNR', 13.3, 29.9, 'left'], ['High SNR', 44.0, 5.4, 'left']];

const FONT = "'Liberation Serif', 'Times New Roman', serif";
const DOT = '#9a9a9a';
const INK = '#1a1a1a';

const pairs = (flat: number[]) => {
  const out: { x: number; y: number }[] = [];
  for (let i = 0; i < flat.length; i += 2) out.push({ x: flat[i], y: flat[i + 1] });
  return out;
};

const panels = [
  { id: 'ya', pts: lcfPoints.concat(lcfMorePoints, lcfDensePoints), low: lcfLowSnr, high: lcfHighSnr, leaders: lcfLeaders, notes: lcfNotes, ticks: yTicksTop },
  { id: 'yb', pts: bwcPoints.concat(bwcMorePoints, bwcDensePoints), low: bwcLowSnr, high: bwcHighSnr, leaders: bwcLeaders, notes: bwcNotes, ticks: yTicksTop },
  { id: 'yc', pts: ccmPoints.concat(ccmMorePoints, ccmDensePoints), low: ccmLowSnr, high: ccmHighSnr, leaders: ccmLeaders, notes: ccmNotes, ticks: yTicksBottom },
];

const overlay = {
  id: 'overlay',
  afterDraw(chart: any) {
    const ctx = chart.ctx;
    const xs = chart.scales.x;
    const area = chart.chartArea;
    ctx.save();
    ctx.strokeStyle = INK;
    ctx.lineWidth = 1;
    const left = Math.round(area.left) + 0.5;
    panels.forEach((p) => {
      const ys = chart.scales[p.id];
      const yb = Math.round(ys.bottom) + 0.5;
      ctx.beginPath();
      ctx.moveTo(area.left, yb);
      ctx.lineTo(area.right + 0.5, yb);
      ctx.stroke();
      xTicks.forEach((v) => {
        if (v === 0) return;
        const px = Math.round(xs.getPixelForValue(v)) - 0.5;
        ctx.beginPath();
        ctx.moveTo(px, yb);
        ctx.lineTo(px, yb - 8);
        ctx.stroke();
      });
      p.ticks.forEach((v) => {
        const py = Math.round(ys.getPixelForValue(v)) + 0.5;
        ctx.beginPath();
        ctx.moveTo(left, py);
        ctx.lineTo(left + 9, py);
        ctx.stroke();
      });
      ctx.fillStyle = INK;
      ctx.font = `27px ${FONT}`;
      ctx.textBaseline = 'middle';
      p.notes.forEach((n: any) => {
        ctx.textAlign = n[3];
        ctx.fillText(n[0], xs.getPixelForValue(n[1]), ys.getPixelForValue(n[2]));
      });
    });
    // x tick labels (the origin "0" sits left of the axis, as in the original)
    ctx.fillStyle = INK;
    ctx.font = `25px ${FONT}`;
    ctx.textAlign = 'center';
    ctx.textBaseline = 'middle';
    xTicks.forEach((v) => {
      const px = v === 0 ? area.left - 16 : xs.getPixelForValue(v);
      ctx.fillText(String(v), px, area.bottom + 20);
    });
    // axis titles
    ctx.font = `29px ${FONT}`;
    ctx.fillText(xTitle, xs.getPixelForValue(28.3), area.bottom + 54);
    ctx.textAlign = 'left';
    ctx.textBaseline = 'alphabetic';
    ctx.fillText(yTitle, area.left - 37, area.top - 12);
    ctx.restore();
  },
};

export default function App() {
  const ref = useRef<HTMLCanvasElement | null>(null);
  useEffect(() => {
    if (!ref.current) return;
    const datasets: any[] = [];
    panels.forEach((p) => {
      [p.low, p.high].forEach((curve) => {
        datasets.push({
          type: 'line',
          data: pairs(curve),
          yAxisID: p.id,
          borderColor: INK,
          borderWidth: 3,
          borderDash: [7, 5],
          pointRadius: 0,
          cubicInterpolationMode: 'monotone',
          fill: false,
          order: 0,
        });
      });
      p.leaders.forEach((l) => {
        datasets.push({
          type: 'line',
          data: pairs(l),
          yAxisID: p.id,
          borderColor: INK,
          borderWidth: 1.2,
          pointRadius: 0,
          fill: false,
          order: 0,
        });
      });
      datasets.push({
        type: 'scatter',
        data: pairs(p.pts),
        yAxisID: p.id,
        backgroundColor: DOT,
        pointBackgroundColor: DOT,
        borderWidth: 0,
        pointBorderWidth: 0,
        pointRadius: 3.9,
        order: 1,
      });
    });

    const yScale = (p: any, weight: number) => ({
      type: 'linear',
      axis: 'y',
      position: 'left',
      stack: 'panels',
      stackWeight: 1,
      weight,
      min: 0,
      max: 60,
      grid: { display: false, drawTicks: false },
      border: { display: true, color: INK, width: 1 },
      ticks: { font: { family: FONT, size: 25, lineHeight: 1 }, color: INK, padding: 11 },
      afterBuildTicks: (s: any) => { s.ticks = p.ticks.map((v: number) => ({ value: v })); },
      afterFit: (s: any) => { s.width = 46; s.paddingTop = 0; s.paddingBottom = 0; },
    });

    const chart = new Chart(ref.current, {
      type: 'scatter',
      data: { datasets },
      options: {
        animation: false,
        responsive: false,
        devicePixelRatio: 1,
        events: [],
        layout: { padding: { top: 39, left: 0, right: 14.7, bottom: 0 } },
        plugins: { legend: { display: false }, tooltip: { enabled: false } },
        scales: {
          x: {
            type: 'linear',
            position: 'bottom',
            min: 0,
            max: 60,
            grid: { display: false, drawTicks: false },
            border: { display: false },
            ticks: { display: false },
            afterBuildTicks: (s: any) => { s.ticks = xTicks.map((v) => ({ value: v })); },
            afterFit: (s: any) => { s.height = 65; s.paddingLeft = 0; s.paddingRight = 0; },
          },
          ya: yScale(panels[0], 3),
          yb: yScale(panels[1], 2),
          yc: yScale(panels[2], 1),
        } as any,
      },
      plugins: [overlay],
    } as any);
    return () => chart.destroy();
  }, []);

  return (
    <div style={{ position: 'absolute', left: 0, top: 0, width: 646, height: 1416, background: '#fff' }}>
      <canvas ref={ref} width={646} height={1416} style={{ display: 'block' }} />
    </div>
  );
}
